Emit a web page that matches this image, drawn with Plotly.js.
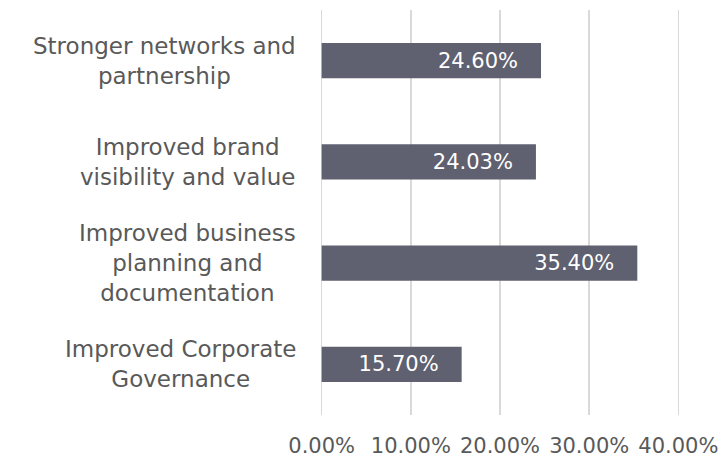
<!DOCTYPE html>
<html>
<head>
<meta charset="utf-8">
<script src="https://cdn.plot.ly/plotly-3.0.1.min.js"></script>
<style>
  html, body { margin: 0; padding: 0; background: #fff; }
  #plotDiv { width: 724px; height: 462px; }
</style>
</head>
<body>
<div id="plotDiv"></div>
<script>
"use strict";

// Chart data
const categories = [
    'Stronger networks and<br>partnership',
    'Improved brand<br>visibility and value',
    'Improved business<br>planning and<br>documentation',
    'Improved Corporate<br>Governance'
];
const shares = [0.2460, 0.2403, 0.3540, 0.1570];
const tickValues = [0, 0.1, 0.2, 0.3, 0.4];

const FONT = '"DejaVu Sans", sans-serif';
const TEXT_COLOR = '#595959';

const trace = {
    type: 'bar',
    orientation: 'h',
    x: shares,
    y: categories,
    width: 0.35,
    marker: { color: '#5f6070' },
    // trailing nbsp to keep the label off the bar end
    texttemplate: '%{x:.2%}\u00a0\u00a0\u00a0',
    textposition: 'inside',
    insidetextanchor: 'end',
    textfont: { family: FONT, size: 21, color: '#ffffff' },
    hoverinfo: 'none'
};

// Category labels as centered annotations (ticks are right-aligned in plotly)
const labels = categories.map(c => ({
    text: c,
    xref: 'paper',
    x: 0,
    xanchor: 'right',
    xshift: -21,
    yref: 'y',
    y: c,
    align: 'center',
    showarrow: false,
    font: { family: FONT, size: 23, color: TEXT_COLOR }
}));

// range padded a little so the 0% and 40% gridlines are drawn
const layout = {
    width: 724,
    height: 462,
    margin: { l: 319, r: 43, t: 10, b: 47 },
    paper_bgcolor: '#ffffff',
    plot_bgcolor: '#ffffff',
    showlegend: false,
    font: { family: FONT, size: 21, color: TEXT_COLOR },
    xaxis: {
        range: [-0.003, 0.403],
        tickvals: tickValues,
        tickformat: '.2%',
        showgrid: true,
        gridcolor: '#d9d9d9',
        gridwidth: 1.5,
        zeroline: false,
        showline: false,
        ticks: '',
        ticklabelstandoff: 16,
        tickfont: { family: FONT, size: 21, color: TEXT_COLOR }
    },
    yaxis: {
        autorange: 'reversed',
        showticklabels: false,
        showgrid: false,
        zeroline: false,
        showline: false,
        ticks: ''
    },
    annotations: labels
};

Plotly.newPlot('plotDiv', [trace], layout, { displayModeBar: false, staticPlot: true });
</script>
</body>
</html>
